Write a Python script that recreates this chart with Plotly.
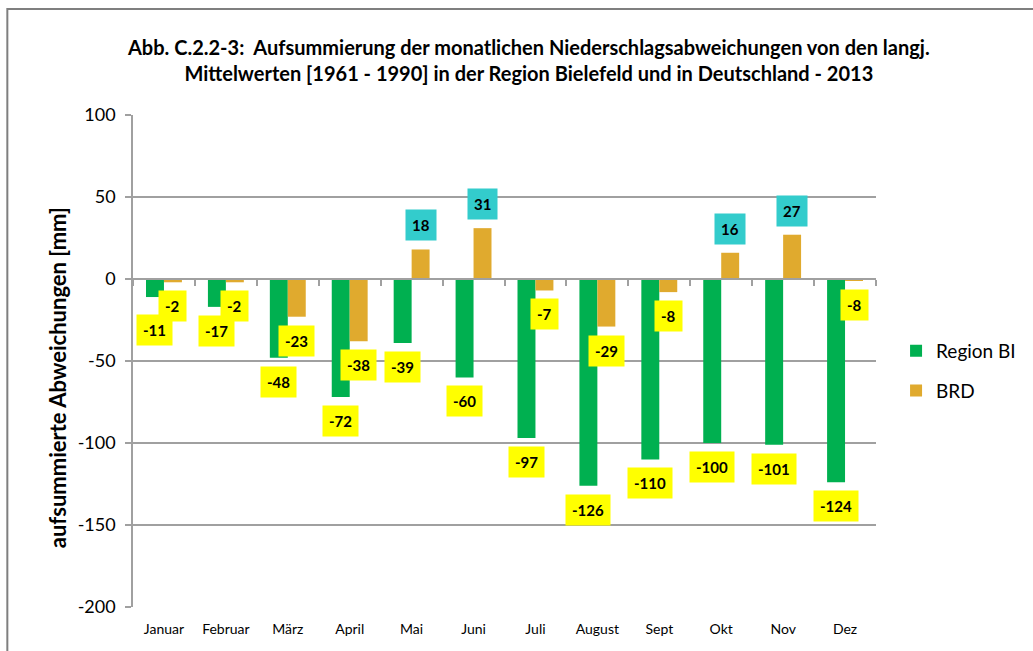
import plotly.graph_objects as go

months = ["Januar", "Februar", "März", "April", "Mai", "Juni",
          "Juli", "August", "Sept", "Okt", "Nov", "Dez"]
region_bi = [-11, -17, -48, -72, -39, -60, -97, -126, -110, -100, -101, -124]
brd = [-2, -2, -23, -38, 18, 31, -7, -29, -8, 16, 27, -1]
brd_labels = ["-2", "-2", "-23", "-38", "18", "31", "-7", "-29", "-8", "16", "27", "-8"]
region_labels = [str(v) for v in region_bi]
y_ticks = [100, 50, 0, -50, -100, -150, -200]
y_tick_text = ["100", "50", "0", "-50", "-100", "-150", "-200"]

GREEN = "#00B050"
GOLD = "#E0AA2E"
YELLOW = "#FFFF00"
CYAN = "#33CCCC"
GRID = "#A0A0A0"
FONT = "Lato, Open Sans, sans-serif"

fig = go.Figure()
fig.add_trace(go.Bar(name="Region BI", x=months, y=region_bi, marker_color=GREEN,
                     marker_line_width=0, legendgroup="a"))
fig.add_trace(go.Bar(name="BRD", x=months, y=brd, marker_color=GOLD,
                     marker_line_width=0, legendgroup="b"))
# helper axis to draw the zero line with category boundary ticks
fig.add_trace(go.Scatter(x=[None], y=[None], xaxis="x2", showlegend=False, hoverinfo="skip"))

annotations = []
nudge = {0: 9}
for i, (m, v, t) in enumerate(zip(months, region_bi, region_labels)):
    annotations.append(dict(x=m, y=v, xref="x", yref="y", text="<b>%s</b>" % t,
                            showarrow=False, xshift=-9,
                            yanchor="top" if v < 0 else "bottom",
                            yshift=(-8 - nudge.get(i, 0)) if v < 0 else 8,
                            bgcolor=YELLOW if v < 0 else CYAN, borderpad=6,
                            font=dict(family=FONT, size=15, color="black")))
for i, (m, v, t) in enumerate(zip(months, brd, brd_labels)):
    annotations.append(dict(x=m, y=v, xref="x", yref="y", text="<b>%s</b>" % t,
                            showarrow=False, xshift=9,
                            yanchor="top" if v < 0 else "bottom",
                            yshift=-8 if v < 0 else 8,
                            bgcolor=YELLOW if v < 0 else CYAN, borderpad=6,
                            font=dict(family=FONT, size=15, color="black")))

annotations.append(dict(
    x=(530 - 133) / 745, y=1, xref="paper", yref="paper", yanchor="bottom", yshift=28,
    showarrow=False, align="center",
    text="<b>Abb. C.2.2-3:  Aufsummierung der monatlichen Niederschlagsabweichungen von den langj.</b><br>"
         "<b>Mittelwerten [1961 - 1990] in der Region Bielefeld und in Deutschland - 2013</b>",
    font=dict(family=FONT, size=20, color="black")))

annotations.append(dict(
    x=(57 - 133) / 745, y=(607 - 378) / 492, xref="paper", yref="paper",
    xanchor="center", yanchor="middle", showarrow=False, textangle=-90,
    text="<b>aufsummierte Abweichungen [mm]</b>",
    font=dict(family=FONT, size=22, color="black")))

fig.update_layout(
    width=1033, height=651,
    margin=dict(l=133, r=155, t=115, b=44),
    paper_bgcolor="white", plot_bgcolor="white",
    barmode="group", bargap=0.42, bargroupgap=0,
    font=dict(family=FONT, color="black"),
    showlegend=True,
    legend=dict(x=1.027, xanchor="left", y=0.48, yanchor="middle",
                font=dict(family=FONT, size=19), tracegroupgap=12,
                bgcolor="rgba(0,0,0,0)"),
    annotations=annotations,
    xaxis=dict(type="category", categoryorder="array", categoryarray=months,
               showgrid=False, showline=False, ticks="", zeroline=False,
               tickfont=dict(family=FONT, size=14), ticklabelstandoff=12),
    xaxis2=dict(overlaying="x", anchor="free", position=2 / 3, type="linear",
                range=[-0.5, 11.5], tickvals=[i + 0.5 for i in range(-1, 12)],
                showticklabels=False, ticks="outside", ticklen=6, tickcolor=GRID,
                tickwidth=1.5, showline=True, linecolor=GRID, linewidth=1.5,
                showgrid=False, zeroline=False),
    yaxis=dict(range=[-200, 100], tickvals=y_ticks, ticktext=y_tick_text,
               showgrid=True, gridcolor=GRID,
               gridwidth=1.5, zeroline=False, showline=True, linecolor=GRID,
               linewidth=1.5, ticks="outside", ticklen=6, tickcolor=GRID, tickwidth=1.5,
               tickfont=dict(family=FONT, size=18), ticklabelstandoff=6),
    shapes=[dict(type="rect", xref="paper", yref="paper",
                 x0=(7 - 133) / 745, x1=(1040 - 133) / 745,
                 y0=-(660 - 607) / 492, y1=(607 - 9) / 492,
                 line=dict(color="#7F7F7F", width=2), fillcolor="rgba(0,0,0,0)",
                 layer="below")],
)

fig.write_html("out.html", post_script="document.body.style.margin='0';",
               config={"displayModeBar": False})
